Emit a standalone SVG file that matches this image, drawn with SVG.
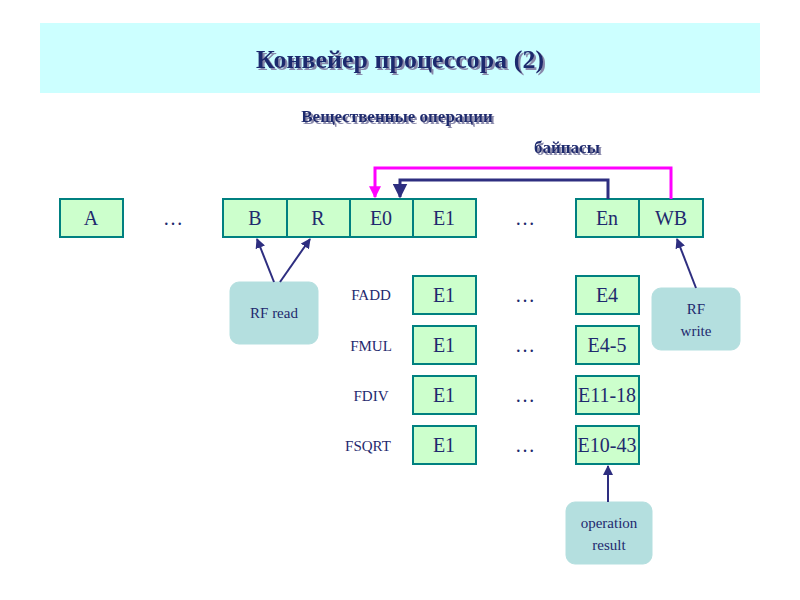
<svg xmlns="http://www.w3.org/2000/svg" width="800" height="600" viewBox="0 0 800 600">
<defs>
<style>
text{font-family:"Liberation Serif","Times New Roman","DejaVu Serif",serif;fill:#1f2a6e}
.b{fill:#ccffcc;stroke:#008080;stroke-width:2}
.t{font-size:20px;text-anchor:middle}
.s{font-size:15px;text-anchor:middle}
.c{fill:#b4dfdf;stroke:#b4dfdf}
.a{stroke:#2e2e80;stroke-width:2;fill:none}
</style>
<filter id="sh" x="-5%" y="-20%" width="110%" height="150%"><feDropShadow dx="2" dy="2" stdDeviation="0.6" flood-color="#8888aa"/></filter>
<marker id="m" viewBox="0 0 10 10" refX="9" refY="5" markerWidth="5" markerHeight="5" orient="auto"><path d="M0,0L10,5L0,10z" fill="#2e2e80"/></marker>
<marker id="mp" viewBox="0 0 10 10" refX="9" refY="5" markerWidth="4" markerHeight="4" orient="auto"><path d="M0,0L10,5L0,10z" fill="#ff00ff"/></marker>
</defs>
<rect width="800" height="600" fill="#fff"/>
<rect x="40" y="23" width="720" height="70" fill="#ccffff"/>
<text x="400" y="68" font-size="26" font-weight="bold" text-anchor="middle" filter="url(#sh)">Конвейер процессора (2)</text>
<text x="397" y="122" font-size="17" font-weight="bold" text-anchor="middle" filter="url(#sh)">Вещественные операции</text>
<text x="567" y="153" font-size="17" font-weight="bold" text-anchor="middle" filter="url(#sh)">байпасы</text>
<g id="A"><rect class="b" x="60" y="199" width="63" height="38"/><text class="t" x="91" y="225">A</text></g>
<text class="t" x="173" y="225">…</text>
<g id="B"><rect class="b" x="223" y="199" width="64" height="38"/><text class="t" x="255" y="225">B</text></g>
<g id="R"><rect class="b" x="287" y="199" width="63" height="38"/><text class="t" x="318" y="225">R</text></g>
<g id="E0"><rect class="b" x="350" y="199" width="63" height="38"/><text class="t" x="381" y="225">E0</text></g>
<g id="E1"><rect class="b" x="413" y="199" width="63" height="38"/><text class="t" x="444" y="225">E1</text></g>
<text class="t" x="525" y="225">…</text>
<g id="En"><rect class="b" x="576" y="199" width="63" height="38"/><text class="t" x="607" y="225">En</text></g>
<g id="WB"><rect class="b" x="639" y="199" width="64" height="38"/><text class="t" x="671" y="225">WB</text></g>
<g id="FADD"><text class="s" x="371" y="300">FADD</text><rect class="b" x="413" y="276" width="63" height="38"/><text class="t" x="444" y="302">E1</text><text class="t" x="525" y="302">…</text><rect class="b" x="576" y="276" width="63" height="38"/><text class="t" x="607" y="302">E4</text></g>
<g id="FMUL"><text class="s" x="371" y="351">FMUL</text><rect class="b" x="413" y="326" width="63" height="38"/><text class="t" x="444" y="352">E1</text><text class="t" x="525" y="352">…</text><rect class="b" x="576" y="326" width="63" height="38"/><text class="t" x="607" y="352">E4-5</text></g>
<g id="FDIV"><text class="s" x="371" y="401">FDIV</text><rect class="b" x="413" y="376" width="63" height="38"/><text class="t" x="444" y="402">E1</text><text class="t" x="525" y="402">…</text><rect class="b" x="576" y="376" width="63" height="38"/><text class="t" x="607" y="402">E11-18</text></g>
<g id="FSQRT"><text class="s" x="368" y="451">FSQRT</text><rect class="b" x="413" y="426" width="63" height="38"/><text class="t" x="444" y="452">E1</text><text class="t" x="525" y="452">…</text><rect class="b" x="576" y="426" width="63" height="38"/><text class="t" x="607" y="452">E10-43</text></g>
<g id="rfread"><rect class="c" x="230" y="282" width="88" height="62" rx="9"/><text class="s" x="274" y="318">RF read</text></g>
<g id="rfwrite"><rect class="c" x="652" y="288" width="88" height="62" rx="9"/><text class="s" x="696" y="314">RF</text><text class="s" x="696" y="336">write</text></g>
<g id="opres"><rect class="c" x="566" y="502" width="86" height="62" rx="9"/><text class="s" x="609" y="528">operation</text><text class="s" x="609" y="550">result</text></g>
<g id="connectors">
<path d="M671,199V168H375V197" stroke="#ff00ff" stroke-width="3" fill="none" marker-end="url(#mp)"/>
<path d="M608,199V180H400V197" stroke="#2e2e80" stroke-width="3" fill="none" marker-end="url(#m)"/>
<path class="a" d="M274,282L257,239" marker-end="url(#m)"/>
<path class="a" d="M280,282L310,239" marker-end="url(#m)"/>
<path class="a" d="M696,288L677,239" marker-end="url(#m)"/>
<path class="a" d="M608,502V466" marker-end="url(#m)"/>
</g>
</svg>
